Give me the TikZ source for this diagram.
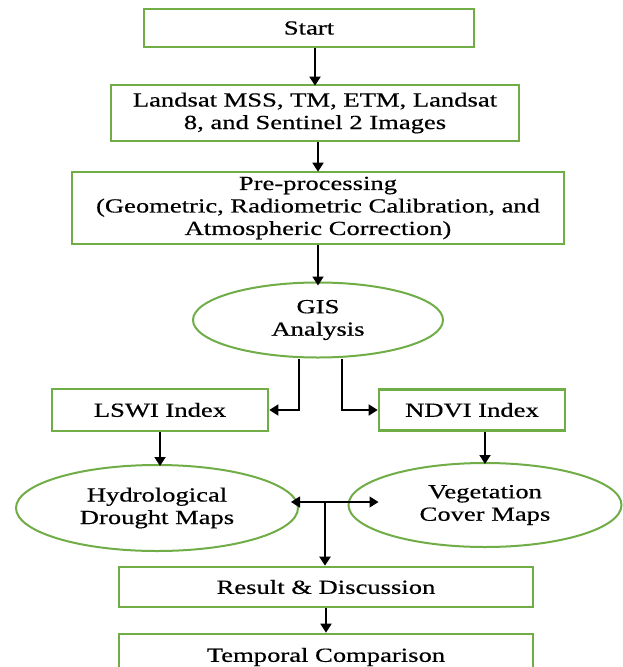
\documentclass[tikz,border=0pt]{standalone}
\usepackage{fontspec}
\setmainfont[FakeStretch=1.33, FakeBold=0.5]{Liberation Serif}
\usetikzlibrary{arrows.meta, shapes.geometric, calc}
\definecolor{boxgreen}{RGB}{112,173,71}

\begin{document}
\begin{tikzpicture}[x=1pt, y=-1pt,
 font=\fontsize{20}{22.5}\selectfont,
 box/.style={draw=boxgreen, line width=2.6pt, align=center, inner sep=0pt},
 oval/.style={ellipse, draw=boxgreen, line width=2pt, align=center, inner sep=0pt},
 arr/.style={-{Triangle[width=11pt, length=9pt]}, line width=1.8pt}]
 \clip (0,0) rectangle (623,667);
 \fill[white] (0,0) rectangle (623,667);

 %上段の処理
 \node[box, minimum width=330, minimum height=38] (start) at (309, 28) {Start};
 \node[box, minimum width=408, minimum height=56] (landsat) at (315, 113)
  {Landsat MSS, TM, ETM, Landsat\\8, and Sentinel 2 Images};
 \node[box, minimum width=492, minimum height=72] (prep) at (318, 208)
  {Pre-processing\\(Geometric, Radiometric Calibration, and\\Atmospheric Correction)};
 \node[oval, minimum width=250, minimum height=75] (gis) at (318, 320) {GIS\\Analysis};

 %指数
 \node[box, minimum width=216, minimum height=42] (lswi) at (160, 410) {LSWI Index};
 \node[box, minimum width=186, minimum height=41] (ndvi) at (472, 410) {NDVI Index};

 %地図
 \node[oval, minimum width=282, minimum height=86] (hydro) at (157, 508)
  {Hydrological\\Drought Maps};
 \node[oval, minimum width=273, minimum height=84] (veg) at (485, 505)
  {Vegetation\\Cover Maps};

 %結果
 \node[box, minimum width=414, minimum height=40] (result) at (326, 587) {Result \& Discussion};
 \node[box, minimum width=414, minimum height=46] (temporal) at (326, 657) {Temporal Comparison};
 \coordinate (jn) at (325, 502);

 \draw[arr] (start.south -| landsat.north) -- ([yshift=-2pt]landsat.north);
 \draw[arr] (landsat.south -| prep.north) -- ([yshift=-1pt]prep.north);
 \draw[arr] (prep.south) -- ([yshift=-4pt]gis.north);
 \draw[arr, line width=1.5pt] ([xshift=-19pt]gis.south) |- (lswi.east);
 \draw[arr, line width=1.5pt] ([xshift=24pt]gis.south) |- (ndvi.west);
 \draw[arr] (lswi.south) -- ([yshift=-2pt]lswi.south |- hydro.north);
 \draw[arr] (veg.north |- ndvi.south) -- ([yshift=-2pt]veg.north);
 \draw[arr, line width=1.2pt] (jn) -- ([xshift=-8pt]hydro.east |- jn);
 \draw[arr, line width=1.2pt] (jn) -- ([xshift=31pt]veg.west |- jn);
 \draw[arr, line width=2.4pt] (jn) -- (jn |- result.north);
 \draw[arr] (result) -- (temporal);
\end{tikzpicture}
\end{document}
